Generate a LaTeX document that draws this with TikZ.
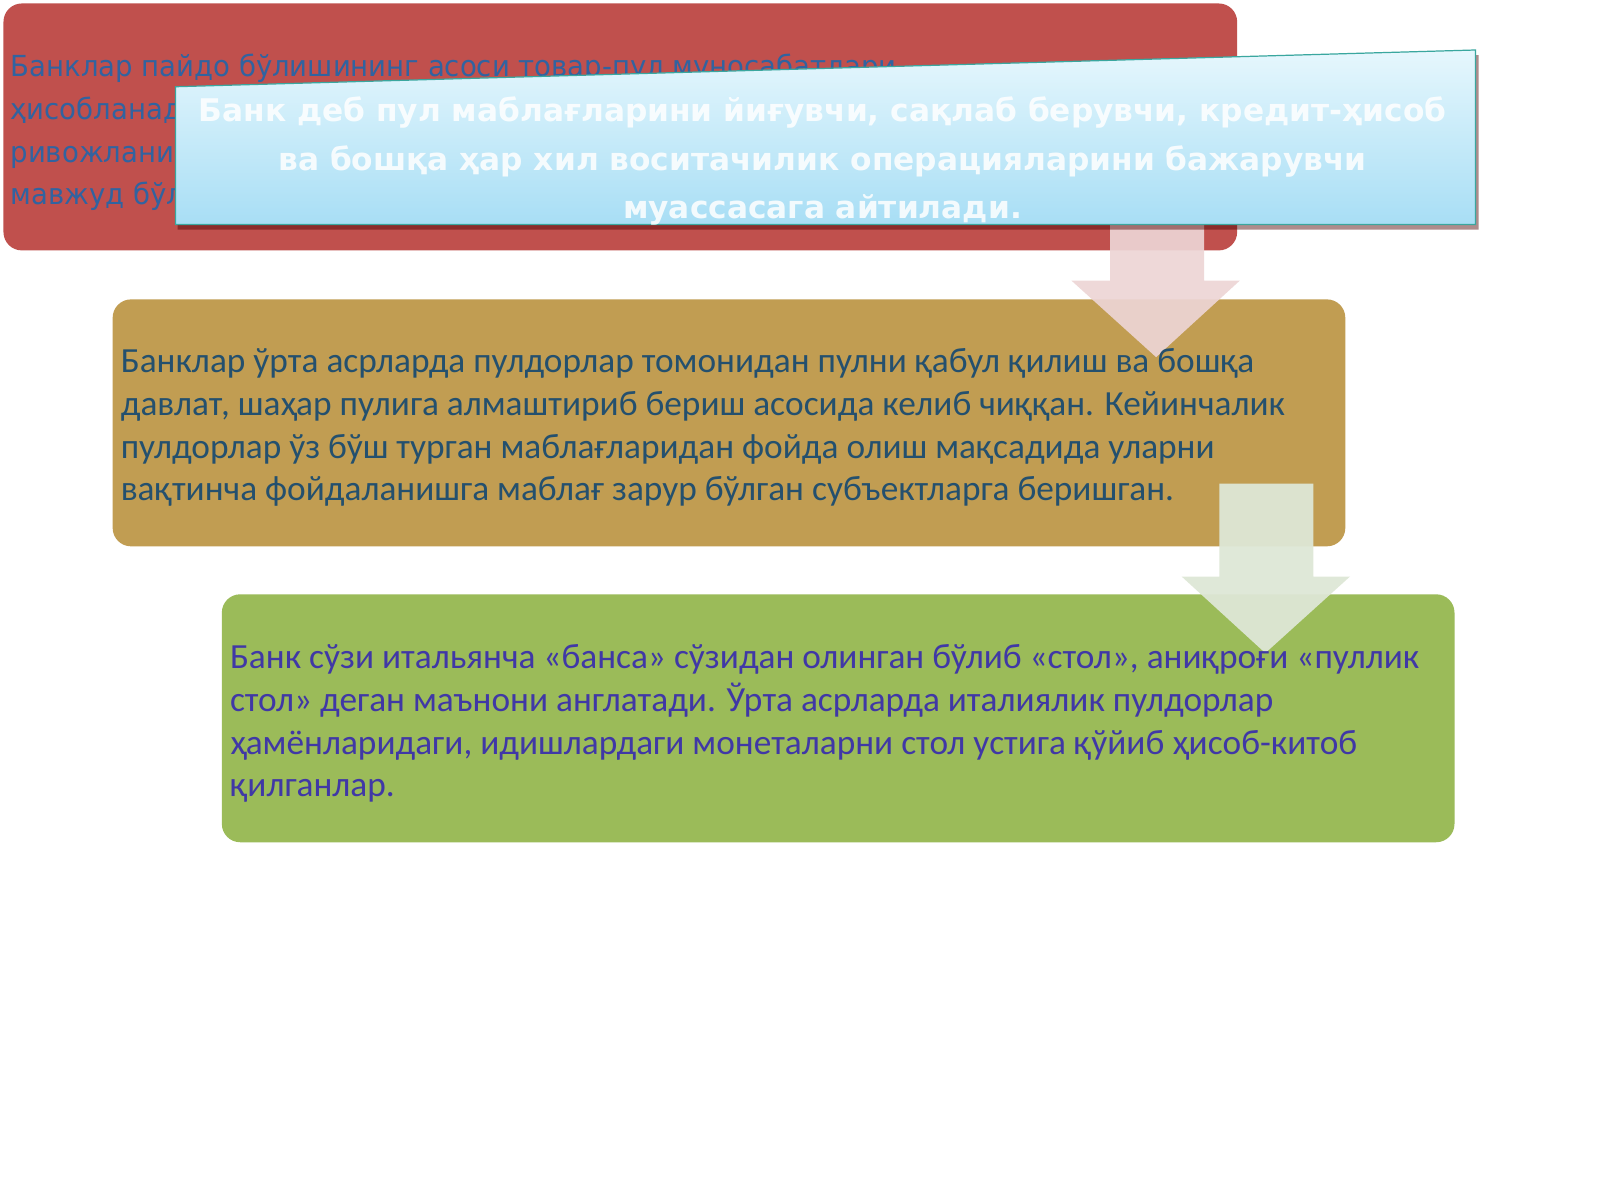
\documentclass[tikz,border=0pt]{standalone}
\usepackage{fontspec}
\setmainfont{Carlito}
\newfontfamily\widefont{DejaVu Sans}
\newfontfamily\redfont[FakeStretch=0.95]{DejaVu Sans}
\usetikzlibrary{calc}
\definecolor{redbox}{HTML}{C0504D}
\definecolor{tanbox}{HTML}{C19D52}
\definecolor{greenbox}{HTML}{9BBB59}
\definecolor{redtext}{HTML}{3163A0}
\definecolor{tantext}{HTML}{24506E}
\definecolor{greentext}{HTML}{4038A6}
\definecolor{pinkarrow}{HTML}{EDD5D5}
\definecolor{greenarrow}{HTML}{DEE7D6}
\definecolor{bluetop}{HTML}{E6F7FD}
\definecolor{bluebot}{HTML}{A8DEF5}
\definecolor{blueline}{HTML}{3AA79F}
\tikzset{
  panel/.style={rounded corners=9pt, inner sep=0pt, anchor=north west},
  bodytext/.style={anchor=north west, align=left, inner sep=0pt, font=\fontsize{17.3}{21}\selectfont},
  redtxt/.style={anchor=north west, align=left, inner sep=0pt, text=redtext, font=\redfont\fontsize{14.2}{20.9}\selectfont},
  bluetxt/.style={align=center, inner sep=0pt, text=white, font=\widefont\bfseries\fontsize{15.3}{23.75}\selectfont},
}
\begin{document}
\begin{tikzpicture}[x=0.5pt,y=-0.5pt]
\useasboundingbox[fill=white] (0,0) rectangle (1568,1176);
% boxes
\node (red) [panel, fill=redbox, minimum width=604.5pt, minimum height=121pt] at (3,3) {};
\node (tan) [panel, fill=tanbox, minimum width=604pt, minimum height=121pt] at (110,293) {};
\node (green) [panel, fill=greenbox, minimum width=604pt, minimum height=121.5pt] at (217,582) {};
% arrows
\fill[pinkarrow, fill opacity=0.92] (1088,212) -- (1180,212) -- (1180,275) -- (1215,275) -- (1133,350) -- (1050,275) -- (1088,275) -- cycle;
\fill[greenarrow, fill opacity=0.95] (1195,474) -- (1287,474) -- (1287,565) -- (1323,565) -- (1240,640) -- (1158,565) -- (1195,565) -- cycle;
% texts
\node (redt) [redtxt] at (10,53) {Банклар пайдо бўлишининг асоси товар-пул муносабатлари\\ҳисобланади\\ривожланиши\\мавжуд бўлган};
\node (tant) [bodytext, text=tantext] at (118,341) {Банклар ўрта асрларда пулдорлар томонидан пулни қабул қилиш ва бошқа\\давлат, шаҳар пулига алмаштириб бериш асосида келиб чиққан. Кейинчалик\\пулдорлар ўз бўш турган маблағларидан фойда олиш мақсадида уларни\\вақтинча фойдаланишга маблағ зарур бўлган субъектларга беришган.};
\node (greent) [bodytext, text=greentext] at (225,631) {Банк сўзи итальянча «банса» сўзидан олинган бўлиб «стол», аниқроғи «пуллик\\стол» деган маънони англатади. Ўрта асрларда италиялик пулдорлар\\ҳамёнларидаги, идишлардаги монеталарни стол устига қўйиб ҳисоб-китоб\\қилганлар.};
% blue tilted box
\fill[black!70!red, opacity=0.45] (174,90) -- (1449,54) -- (1449,225) -- (174,225) -- cycle;
\shade[top color=bluetop, bottom color=bluebot, draw=blueline, line width=0.6pt] (172,85) -- (1446,49) -- (1446,220) -- (172,220) -- cycle;
\node (bluet) [bluetxt, text opacity=0.85] at (806,158) {Банк деб пул маблағларини йиғувчи, сақлаб берувчи, кредит-ҳисоб\\ва бошқа ҳар хил воситачилик операцияларини бажарувчи\\муассасага айтилади.};
\end{tikzpicture}
\end{document}
